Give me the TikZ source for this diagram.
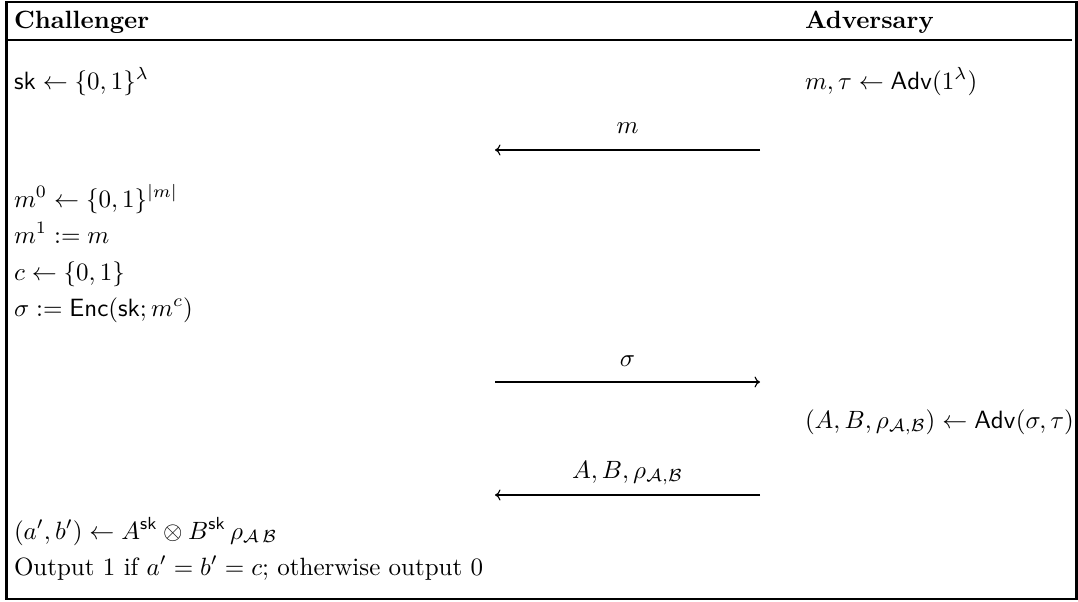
\documentclass[tikz,border=0pt]{standalone}
\usetikzlibrary{arrows.meta}
\begin{document}
\begin{tikzpicture}[x=0.4pt,y=-0.4pt,
  txt/.style={anchor=base west,inner sep=0pt,outer sep=0pt},
  lbl/.style={anchor=base,inner sep=0pt,outer sep=0pt},
  msg/.style={line width=0.45pt,-{To[length=2.2pt,width=4.4pt]}},
  frame/.style={line width=0.85pt},
  hrule/.style={line width=0.7pt}]
\useasboundingbox (0,0) rectangle (1078,601);
\draw[frame] (6.5,2) rectangle (1076.5,599);
% header
\node[txt] (hc) at (14,28) {\textbf{Challenger}};
\node[txt] (ha) at (805,28) {\textbf{Adversary}};
\coordinate (rl) at (6.5,40);
\coordinate (rr) at (1072,40);
\draw[hrule] (rl) -- (rr);
% rows
\node[txt] (c1) at (14,89) {$\mathsf{sk} \leftarrow \{0,1\}^{\lambda}$};
\node[txt] (a1) at (805,89) {$m,\tau \leftarrow \mathsf{Adv}(1^{\lambda})$};
\coordinate (mR) at (760,150);
\coordinate (mL) at (495,150);
\draw[msg] (mR) -- (mL);
\node[lbl] (ml) at (627.5,133) {$m$};
\node[txt] (c2) at (14,207) {$m^0 \leftarrow \{0,1\}^{|m|}$};
\node[txt] (c3) at (14,243) {$m^1 := m$};
\node[txt] (c4) at (14,280) {$c \leftarrow \{0,1\}$};
\node[txt] (c5) at (14,316) {$\sigma := \mathsf{Enc}(\mathsf{sk}; m^c)$};
\coordinate (sL) at (495,382);
\coordinate (sR) at (760,382);
\draw[msg] (sL) -- (sR);
\node[lbl] (sl) at (627.5,366) {$\sigma$};
\node[txt] (a2) at (805,428) {$(A,B,\rho_{\mathcal{A},\mathcal{B}}) \leftarrow \mathsf{Adv}(\sigma,\tau)$};
\coordinate (aR) at (760,495);
\coordinate (aL) at (495,495);
\draw[msg] (aR) -- (aL);
\node[lbl] (al) at (627.5,478) {$A,B,\rho_{\mathcal{A},\mathcal{B}}$};
\node[txt] (c6) at (14,539) {$(a',b') \leftarrow A^{\mathsf{sk}} \otimes B^{\mathsf{sk}}\,\rho_{\mathcal{A}\,\mathcal{B}}$};
\node[txt] (c7) at (14,575) {Output 1 if $a'=b'=c$; otherwise output 0};
\end{tikzpicture}
\end{document}
